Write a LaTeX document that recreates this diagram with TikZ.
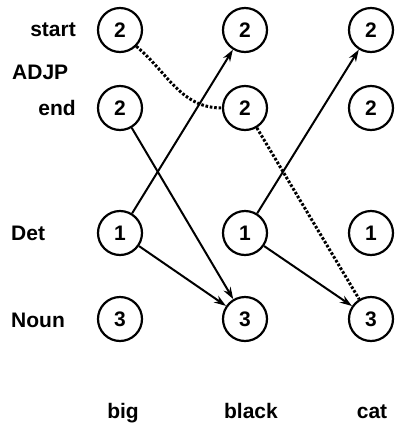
\documentclass[tikz,border=0pt]{standalone}
\usepackage{fontspec}
\setmainfont{Liberation Sans}
\usetikzlibrary{arrows.meta}
\begin{document}
\begin{tikzpicture}[x=1pt,y=-1pt,
  every node/.style={font=\fontsize{21}{25}\selectfont\bfseries, inner sep=0pt},
  state/.style={circle, draw, line width=2.2pt, minimum size=44pt},
  link/.style={line width=2pt, -{Stealth[length=12pt,width=8pt]}},
  chain/.style={line width=3pt, dash pattern=on 2.6pt off 1.8pt}]
\useasboundingbox (0,0) rectangle (399,424);
% states: columns = words, rows = categories
\foreach \c/\x in {a/120,b/245,c/371}{
  \node[state] (s\c) at (\x,30)  {2};
  \node[state] (e\c) at (\x,108) {2};
  \node[state] (d\c) at (\x,233) {1};
  \node[state] (n\c) at (\x,319) {3};
}
% row labels
\node[anchor=east] (lstart) at (76,30) {start};
\node[anchor=west] (ladjp) at (12,72) {ADJP};
\node[anchor=east] (lend) at (76,108) {end};
\node[anchor=west] (ldet) at (11,233) {Det};
\node[anchor=west] (lnoun) at (11,320) {Noun};
% words
\node[anchor=base] (wbig) at (123,418) {big};
\node[anchor=base] (wblack) at (251,418) {black};
\node[anchor=base] (wcat) at (372,418) {cat};
% transitions
\draw[link] (da) -- (sb);
\draw[link] (ea) -- (nb);
\draw[link] (da) -- (nb);
\draw[link] (db) -- (sc);
\draw[link] (db) -- (nc);
% dotted path
\draw[chain] (sa.-45) to[out=-40,in=180] (eb.west);
\draw[chain] (eb) -- (nc);
\end{tikzpicture}
\end{document}
